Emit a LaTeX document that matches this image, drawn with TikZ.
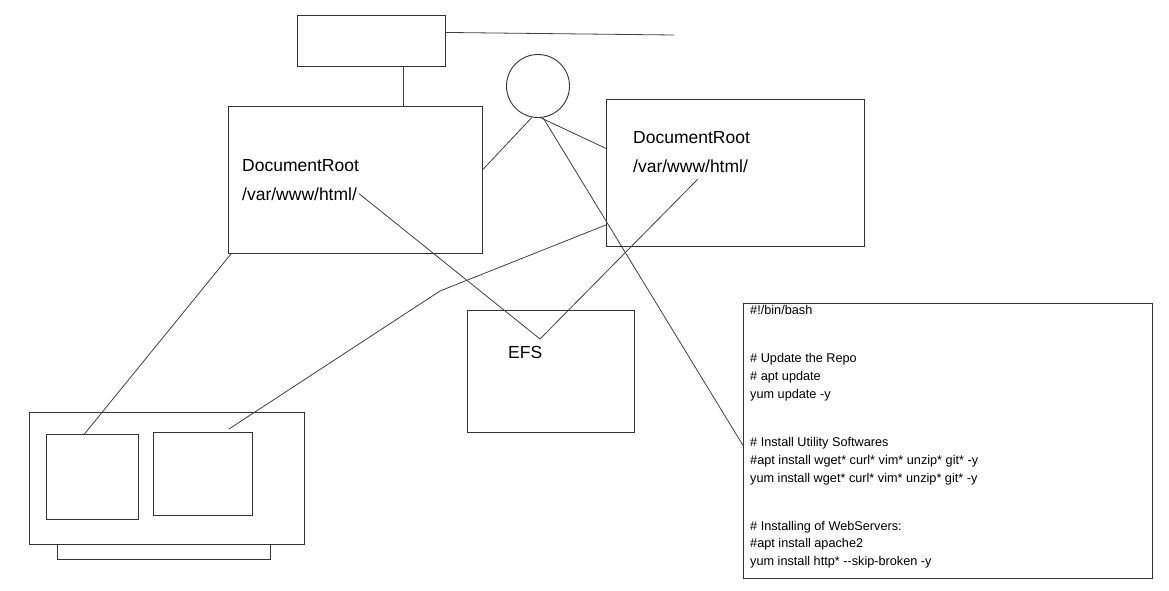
\documentclass[tikz,border=0pt]{standalone}
\usepackage{fontspec}
\setmainfont{Liberation Sans}
\usepackage{tikz}
\usetikzlibrary{calc}

\begin{document}
\begin{tikzpicture}[x=1pt,y=-1pt,
    box/.style={draw=black!80,line width=0.9pt,inner sep=0pt,anchor=north west},
    webtext/.style={font=\fontsize{17.5}{21}\selectfont,inner sep=2pt,anchor=base west},
    wire/.style={draw=black!75,line width=0.8pt}]
    \useasboundingbox (0,0) rectangle (1169,590);

    % Place the nodes
    \node[box,minimum width=148pt,minimum height=51pt] (toprect) at (297,15) {};
    \node[circle,draw=black!80,line width=0.9pt,minimum size=63pt,inner sep=0pt] (lb) at (538,86) {};
    \node[box,minimum width=254pt,minimum height=147pt] (webA) at (228,106) {};
    \node[box,minimum width=258pt,minimum height=147pt] (webB) at (606,99) {};
    \node[box,minimum width=167pt,minimum height=122pt] (efs) at (467,310) {};
    \node[box,minimum width=409pt,minimum height=275pt] (script) at (743,303) {};
    \node[box,minimum width=275pt,minimum height=132pt] (pc) at (29,412) {};
    \node[box,minimum width=92pt,minimum height=85pt] (screenA) at (46,434) {};
    \node[box,minimum width=99pt,minimum height=83pt] (screenB) at (153,432) {};
    \node[box,minimum width=213pt,minimum height=15pt] (base) at (57,544) {};

    % The texts
    \node[webtext] (docA) at (240,171) {DocumentRoot};
    \node[webtext] (htmlA) at (240,200) {/var/www/html/};
    \node[webtext] (docB) at (631,143) {DocumentRoot};
    \node[webtext] (htmlB) at (631,172) {/var/www/html/};
    \node[webtext] (efsLabel) at (506,358) {EFS};
    \node[anchor=north west,inner sep=0pt,align=left,
        font=\fontsize{12.7}{17.8}\selectfont] (code) at (750,305.5) {%
        \#!/bin/bash\\[30.2pt]
        \# Update the Repo\\
        \# apt update\\
        yum update -y\\[30.2pt]
        \# Install Utility Softwares\\
        \#apt install wget* curl* vim* unzip* git* -y\\
        yum install wget* curl* vim* unzip* git* -y\\[30.2pt]
        \# Installing of WebServers:\\
        \#apt install apache2\\
        yum install http* -{}-skip-broken -y};

    % Free ends and bends
    \coordinate (wireEnd) at (674,35);
    \coordinate (efsTip) at (540,339);
    \coordinate (bend) at (440,291);

    % Draw the lines
    \draw[wire] ([yshift=8.5pt]toprect.east) -- (wireEnd);
    \draw[wire] ([xshift=32pt]toprect.south) -- ([xshift=32pt]toprect.south |- webA.north);
    \draw[wire] (lb.259) -- ([yshift=10.5pt]webA.east);
    \draw[wire] (lb.-85) -- ([yshift=24.5pt]webB.west);
    \draw[wire] (lb.-81) -- ([yshift=-4.5pt]script.west);
    \draw[wire] (htmlA.east) -- (efsTip) -- ([xshift=7pt,yshift=-5pt]htmlB.south);
    \draw[wire] ([xshift=3pt]webA.south west) -- ([xshift=-8pt]screenA.north);
    \draw[wire] ([yshift=22pt]webB.south west) -- (bend) -- ([xshift=26pt,yshift=3pt]screenB.north);

\end{tikzpicture}
\end{document}
